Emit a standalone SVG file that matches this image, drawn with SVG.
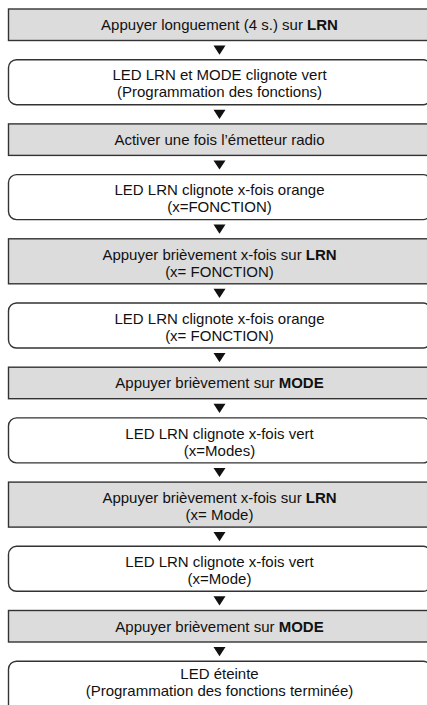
<svg xmlns="http://www.w3.org/2000/svg" width="427" height="705" viewBox="0 0 427 705">
  <style>
    .step { fill: #dcdcdc; stroke: #333333; stroke-width: 1.4; }
    .state { fill: #ffffff; stroke: #333333; stroke-width: 1.4; }
    text { font-family: "Liberation Sans", Arial, sans-serif; font-size: 15px; fill: #111111; text-anchor: middle; }
    .b { font-weight: bold; }
    .arrow { fill: #111111; }
  </style>
  <defs>
    <polygon id="tri" points="-6,-4.6 6,-4.6 0,4.6"/>
  </defs>
  <rect width="427" height="705" fill="#ffffff"/>

  <g id="n1">
    <rect class="step" x="8.5" y="9" width="422.5" height="31.5"/>
    <text x="219.5" y="30.2">Appuyer longuement (4 s.) sur <tspan class="b">LRN</tspan></text>
  </g>
  <g id="n2">
    <rect class="state" x="8.5" y="59.7" width="422.5" height="45" rx="8"/>
    <text x="219.5" y="80.4">LED LRN et MODE clignote vert</text>
    <text x="219.5" y="97.4">(Programmation des fonctions)</text>
  </g>
  <g id="n3">
    <rect class="step" x="8.5" y="123.9" width="422.5" height="31.5"/>
    <text x="219.5" y="145.1">Activer une fois l’émetteur radio</text>
  </g>
  <g id="n4">
    <rect class="state" x="8.5" y="174.6" width="422.5" height="45" rx="8"/>
    <text x="219.5" y="195.3">LED LRN clignote x-fois orange</text>
    <text x="219.5" y="212.3">(x=FONCTION)</text>
  </g>
  <g id="n5">
    <rect class="step" x="8.5" y="238.8" width="422.5" height="45"/>
    <text x="219.5" y="259.5">Appuyer brièvement x-fois sur <tspan class="b">LRN</tspan></text>
    <text x="219.5" y="276.5">(x= FONCTION)</text>
  </g>
  <g id="n6">
    <rect class="state" x="8.5" y="303" width="422.5" height="45" rx="8"/>
    <text x="219.5" y="323.7">LED LRN clignote x-fois orange</text>
    <text x="219.5" y="340.7">(x= FONCTION)</text>
  </g>
  <g id="n7">
    <rect class="step" x="8.5" y="367.2" width="422.5" height="31.5"/>
    <text x="219.5" y="388.4">Appuyer brièvement sur <tspan class="b">MODE</tspan></text>
  </g>
  <g id="n8">
    <rect class="state" x="8.5" y="417.9" width="422.5" height="45" rx="8"/>
    <text x="219.5" y="438.6">LED LRN clignote x-fois vert</text>
    <text x="219.5" y="455.6">(x=Modes)</text>
  </g>
  <g id="n9">
    <rect class="step" x="8.5" y="482.1" width="422.5" height="45"/>
    <text x="219.5" y="502.8">Appuyer brièvement x-fois sur <tspan class="b">LRN</tspan></text>
    <text x="219.5" y="519.8">(x= Mode)</text>
  </g>
  <g id="n10">
    <rect class="state" x="8.5" y="546.3" width="422.5" height="45" rx="8"/>
    <text x="219.5" y="567">LED LRN clignote x-fois vert</text>
    <text x="219.5" y="584">(x=Mode)</text>
  </g>
  <g id="n11">
    <rect class="step" x="8.5" y="610.5" width="422.5" height="31.5"/>
    <text x="219.5" y="631.7">Appuyer brièvement sur <tspan class="b">MODE</tspan></text>
  </g>
  <g id="n12">
    <rect class="state" x="8.5" y="661.2" width="422.5" height="60" rx="8"/>
    <text x="219.5" y="678.7">LED éteinte</text>
    <text x="219.5" y="695.7">(Programmation des fonctions terminée)</text>
  </g>

  <g id="connectors">
    <use href="#tri" class="arrow" x="219.5" y="50.1"/>
    <use href="#tri" class="arrow" x="219.5" y="114.3"/>
    <use href="#tri" class="arrow" x="219.5" y="165"/>
    <use href="#tri" class="arrow" x="219.5" y="229.2"/>
    <use href="#tri" class="arrow" x="219.5" y="293.4"/>
    <use href="#tri" class="arrow" x="219.5" y="357.6"/>
    <use href="#tri" class="arrow" x="219.5" y="408.3"/>
    <use href="#tri" class="arrow" x="219.5" y="472.5"/>
    <use href="#tri" class="arrow" x="219.5" y="536.7"/>
    <use href="#tri" class="arrow" x="219.5" y="600.9"/>
    <use href="#tri" class="arrow" x="219.5" y="651.6"/>
  </g>
</svg>
